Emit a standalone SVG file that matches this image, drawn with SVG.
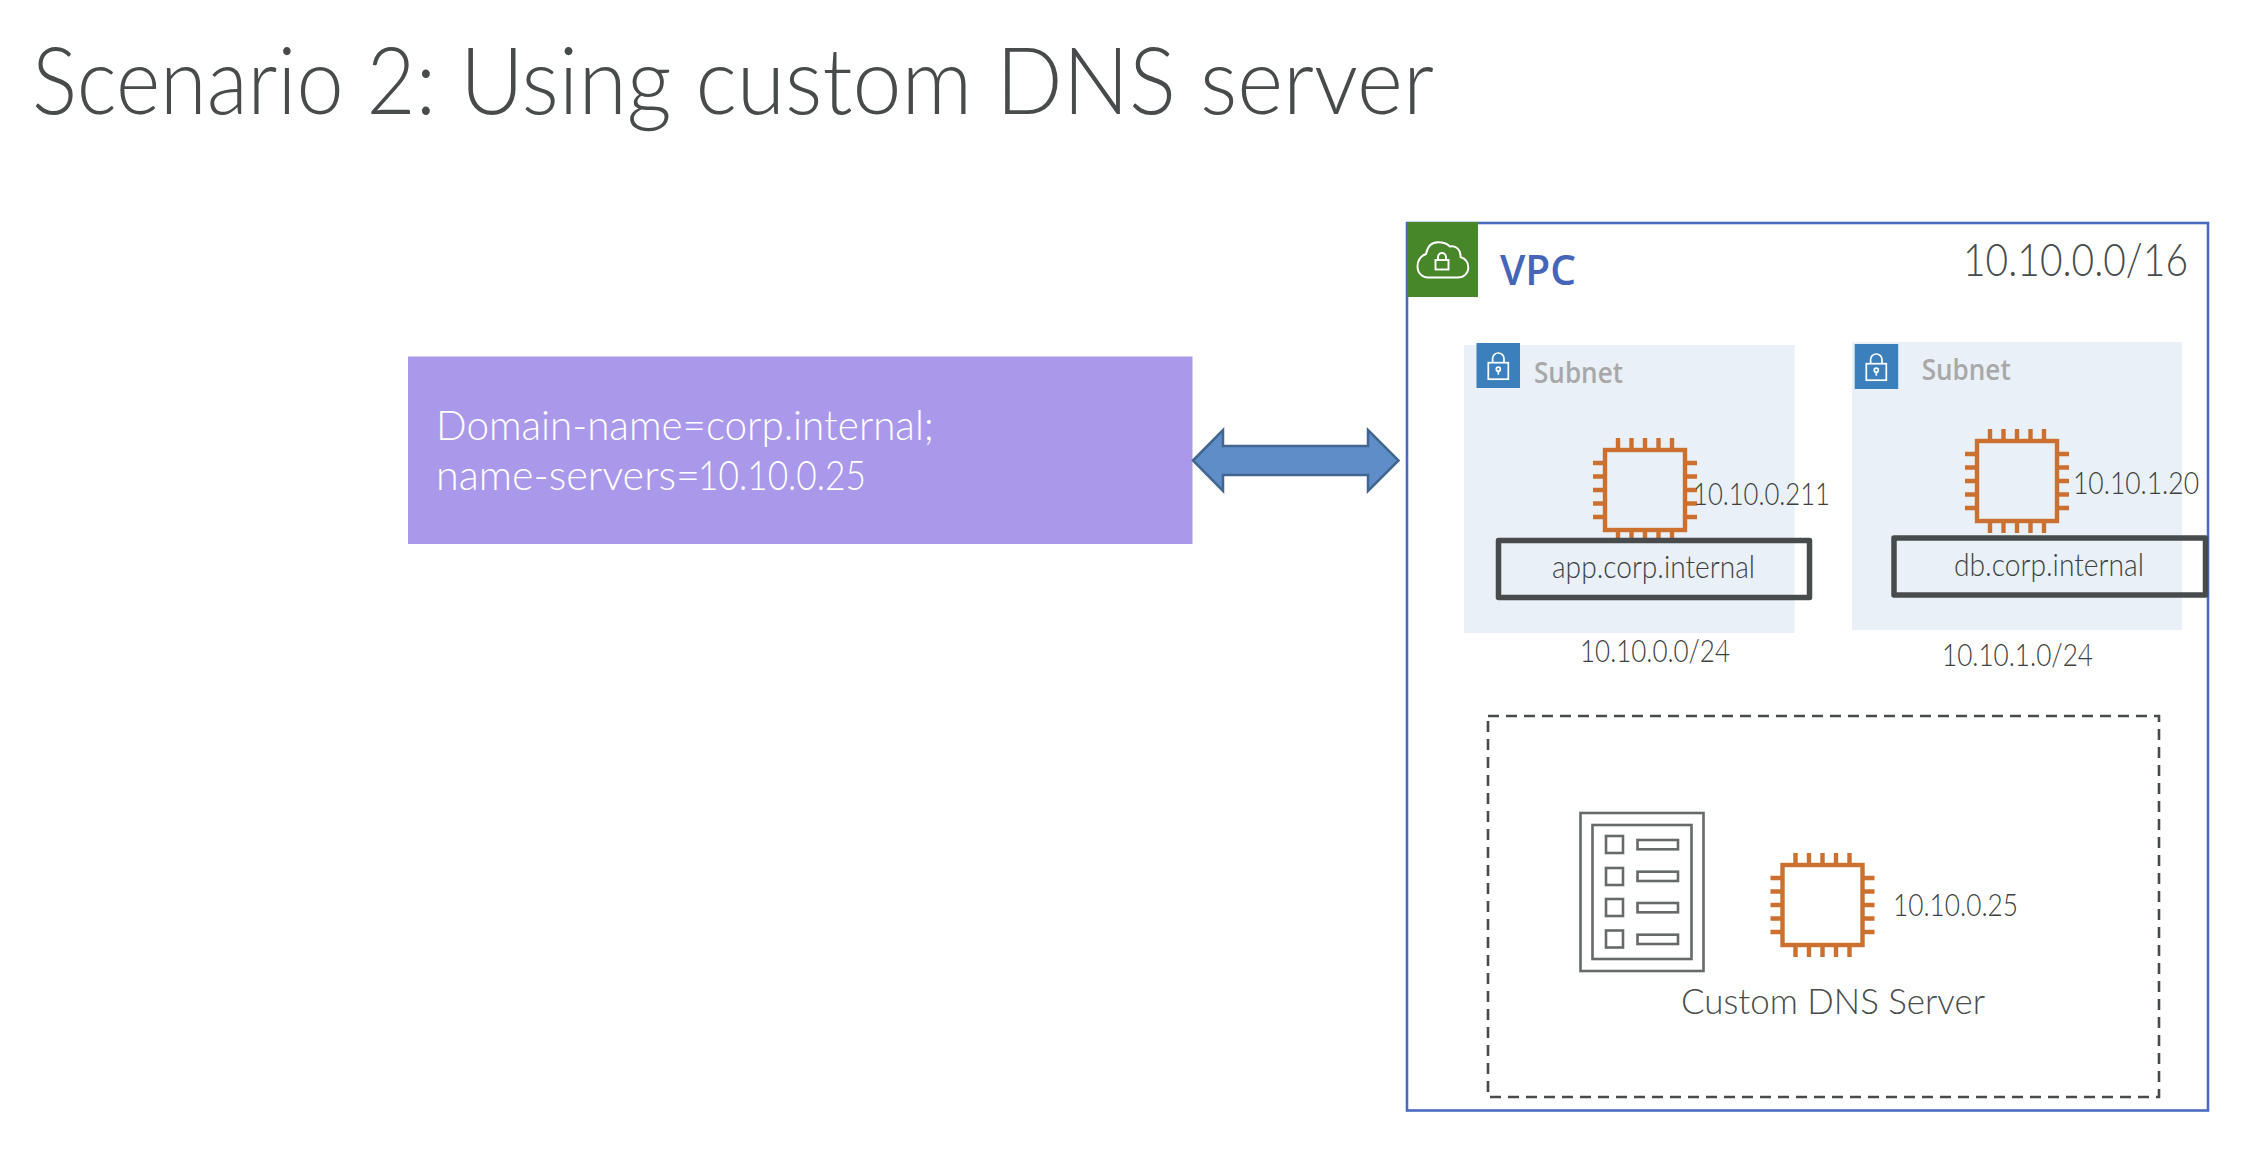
<svg xmlns="http://www.w3.org/2000/svg" xmlns:xlink="http://www.w3.org/1999/xlink" width="2258" height="1158" viewBox="0 0 2258 1158">
<style>
text{font-family:"Lato","Open Sans","Liberation Sans",sans-serif;font-weight:300;fill:#474b4b}
.lab{font-size:32px;fill:#3c4040}
.sub{font-family:"Open Sans","Noto Sans","Liberation Sans",sans-serif;font-size:28px;font-weight:600;fill:#a8a8a8}
.hostbox{fill:none;stroke:#474b4b;stroke-width:5.5;stroke-linejoin:round}
.subnet{fill:#e9f0f7}
.badge{fill:#3b7fbd}
.doc{fill:none;stroke:#666a6a;stroke-width:2.6}
</style>
<defs>
<g id="chip" fill="none" stroke="#cc7030" stroke-width="4.4">
<rect x="0" y="0" width="80" height="80"/>
<path d="M13 0V-12M26.5 0V-12M40 0V-12M53.5 0V-12M67 0V-12M13 80V92M26.5 80V92M40 80V92M53.5 80V92M67 80V92M0 13H-12M0 26.5H-12M0 40H-12M0 53.5H-12M0 67H-12M80 13H92M80 26.500H92M80 40H92M80 53.5H92M80 67H92"/>
</g>
<g id="lock" fill="none" stroke="#ffffff" stroke-width="1.7">
<rect x="0" y="11" width="20" height="16.5"/>
<path d="M4.3 11V7A5.7 5.7 0 0 1 15.7 7V11"/>
<circle cx="10" cy="17.5" r="2"/>
<path d="M10 19.5V23"/>
</g>
</defs>
<rect width="2258" height="1158" fill="#ffffff"/>
<text id="title" y="113.5" font-size="92"><tspan x="32" textLength="404" lengthAdjust="spacingAndGlyphs">Scenario 2:</tspan> <tspan x="460" textLength="974" lengthAdjust="spacingAndGlyphs">Using custom DNS server</tspan></text>
<g id="dhcp-options">
<rect x="408" y="356.500" width="784.500" height="187.500" fill="#aa99eb"/>
<text x="436" y="439.500" font-size="41" style="fill:#ffffff" textLength="498" lengthAdjust="spacingAndGlyphs">Domain-name=corp.internal;</text>
<text y="489.500" font-size="41" style="fill:#ffffff"><tspan x="436" textLength="264" lengthAdjust="spacingAndGlyphs">name-servers=</tspan><tspan x="698" textLength="168" lengthAdjust="spacingAndGlyphs">10.10.0.25</tspan></text>
</g>
<g id="vpc">
<rect x="1407" y="223" width="801" height="887.500" fill="none" stroke="#4a6bbf" stroke-width="2.6"/>
<rect x="1408" y="222" width="70" height="75" fill="#478629"/>
<path d="M1428 277.500H1458C1464 277.500 1468.300 273 1468.300 267.500C1468.300 262 1465 258.500 1460.500 257C1461 250 1456 245 1450 246.500C1447 243.500 1443 242.300 1438 242.300C1432 242.300 1427.500 246.500 1426 254C1420.500 256 1417.500 261 1417.500 266.500C1417.500 273 1422 277.500 1428 277.500Z" fill="none" stroke="#ffffff" stroke-width="1.9"/>
<rect x="1435.500" y="260" width="13" height="9.500" fill="none" stroke="#ffffff" stroke-width="1.9"/>
<path d="M1438 260V257A4 4 0 0 1 1446 257V260" fill="none" stroke="#ffffff" stroke-width="1.9"/>
<text x="1500" y="285" font-size="41" style="font-family:'Open Sans','Noto Sans',sans-serif;font-weight:600;fill:#4565b9" textLength="76" lengthAdjust="spacingAndGlyphs">VPC</text>
<text x="1963" y="276" font-size="46" textLength="225" lengthAdjust="spacingAndGlyphs">10.10.0.0/16</text>
</g>
<g id="subnet-1">
<rect class="subnet" x="1464" y="345" width="330.500" height="288"/>
<rect class="badge" x="1476.500" y="343" width="43.500" height="45"/>
<use xlink:href="#lock" href="#lock" x="1488.300" y="351.700"/>
<text class="sub" x="1534" y="383" textLength="89" lengthAdjust="spacingAndGlyphs">Subnet</text>
<text class="lab" x="1580" y="662" textLength="150" lengthAdjust="spacingAndGlyphs">10.10.0.0/24</text>
</g>
<g id="instance-app">
<use xlink:href="#chip" href="#chip" x="1605" y="450"/>
<rect class="hostbox" x="1498.500" y="540.500" width="311" height="57"/>
<text class="lab" x="1552" y="578" textLength="203" lengthAdjust="spacingAndGlyphs">app.corp.internal</text>
<text class="lab" x="1693" y="504.500" textLength="137" lengthAdjust="spacingAndGlyphs">10.10.0.211</text>
</g>
<g id="subnet-2">
<rect class="subnet" x="1852" y="342" width="330" height="288"/>
<rect class="badge" x="1854.700" y="344" width="43.500" height="45"/>
<use xlink:href="#lock" href="#lock" x="1866.300" y="352.700"/>
<text class="sub" x="1921.700" y="380" textLength="89" lengthAdjust="spacingAndGlyphs">Subnet</text>
<text class="lab" x="1942" y="665.500" textLength="151" lengthAdjust="spacingAndGlyphs">10.10.1.0/24</text>
</g>
<g id="instance-db">
<use xlink:href="#chip" href="#chip" x="1977" y="441"/>
<rect class="hostbox" x="1894" y="538" width="311.500" height="57"/>
<text class="lab" x="1954" y="575.500" textLength="190" lengthAdjust="spacingAndGlyphs">db.corp.internal</text>
<text class="lab" x="2073" y="494" textLength="126" lengthAdjust="spacingAndGlyphs">10.10.1.20</text>
</g>
<g id="custom-dns">
<rect x="1488" y="716" width="671" height="381" fill="none" stroke="#474b4b" stroke-width="2.6" stroke-dasharray="11 7"/>
<rect class="doc" x="1580.500" y="813" width="123" height="158"/>
<rect class="doc" x="1592.500" y="825" width="99" height="134"/>
<rect class="doc" x="1606" y="836" width="17" height="17"/>
<rect class="doc" x="1637.500" y="840" width="40.500" height="9.300"/>
<rect class="doc" x="1606" y="868" width="17" height="17"/>
<rect class="doc" x="1637.500" y="871.700" width="40.500" height="9.300"/>
<rect class="doc" x="1606" y="899" width="17" height="17"/>
<rect class="doc" x="1637.500" y="903" width="40.500" height="9.300"/>
<rect class="doc" x="1606" y="930.500" width="17" height="17"/>
<rect class="doc" x="1637.500" y="934.700" width="40.500" height="9.300"/>
<use xlink:href="#chip" href="#chip" x="1782.500" y="865"/>
<text class="lab" x="1893" y="916" textLength="125" lengthAdjust="spacingAndGlyphs">10.10.0.25</text>
<text x="1681" y="1013.500" font-size="35" textLength="304" lengthAdjust="spacingAndGlyphs">Custom DNS Server</text>
</g>
<g id="connectors">
<polygon points="1193,460.500 1223,430 1223,446 1368,446 1368,430 1398.500,460.500 1368,491 1368,475 1223,475 1223,491" fill="#5f8dc8" stroke="#41668f" stroke-width="2.5"/>
</g>
</svg>
